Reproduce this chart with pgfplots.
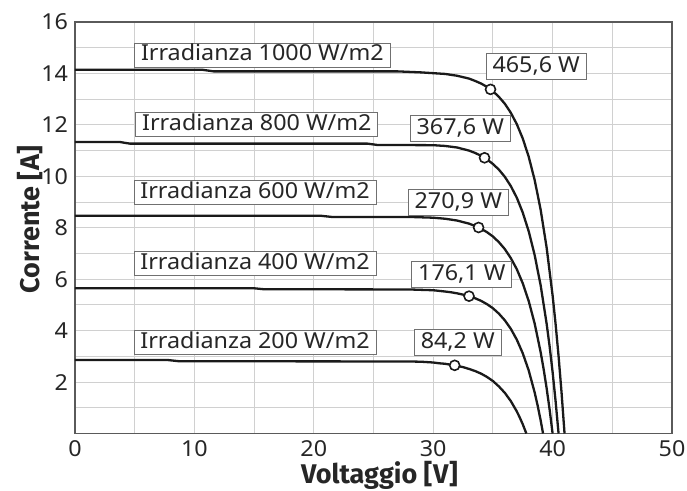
\documentclass[border=0pt]{standalone}
\usepackage{pgfplots}
\pgfplotsset{compat=1.18}
\usepackage{fontspec}
\setmainfont{Noto Sans}[FakeStretch=1.06]
\newfontfamily\labfont{Fira Sans}
\definecolor{curve}{HTML}{1A1A1A}
\definecolor{gridc}{HTML}{D0D0D0}
\definecolor{framec}{HTML}{5A5A5A}
\definecolor{boxc}{HTML}{707070}
\begin{document}
\begin{tikzpicture}[
  lbl/.style={draw=boxc, fill=white, line width=0.5pt, inner xsep=3.2pt, inner ysep=0pt,
    minimum height=12pt, text height=8pt, text depth=2.2pt,
    font=\fontsize{11}{13}\selectfont, text=black!85},
  pw/.style={lbl, minimum height=13pt},
]
\begin{axis}[
  at={(0,0)}, anchor=south west,
  width=298.5pt, height=205.75pt, scale only axis,
  xmin=0, xmax=50, ymin=0, ymax=16,
  xtick={0,10,...,50}, ytick={2,4,...,16},
  minor xtick={5,15,...,45}, minor ytick={1,3,...,15},
  grid=both,
  major grid style={draw=gridc, line width=0.5pt},
  minor grid style={draw=gridc, line width=0.5pt},
  major tick length=0pt, minor tick length=0pt,
  axis line style={draw=framec, line width=0.8pt},
  tick label style={font=\fontsize{11}{13}\selectfont, text=black!85},
  /pgf/number format/assume math mode=true,
  xlabel={Voltaggio [V]}, ylabel={Corrente [A]},
  label style={font=\labfont\fontsize{13.5}{15}\selectfont\bfseries, text=black!85},
  xlabel style={at={(axis description cs:0.51,-0.1009)}, anchor=center},
  ylabel style={at={(axis description cs:-0.0754,0.52)}, anchor=center},
  clip=true,
]
% 1000 W/m2
\addplot[curve, line width=1.15pt] coordinates {
(0,14.14)(10.7,14.14)(11.6,14.08)(27,14.08)(29,14.04)(30,14.01)(31,13.98)(32,13.91)(33,13.80)(33.5,13.71)(34,13.61)(34.5,13.48)(35,13.31)(35.5,13.09)(36,12.82)(36.5,12.47)(37,12.03)(37.5,11.47)(38,10.76)(38.5,9.85)(39,8.70)(39.5,7.23)(40,5.37)(40.25,4.26)(40.5,3.01)(40.75,1.59)(41.0,0)
};
% 800 W/m2
\addplot[curve, line width=1.15pt] coordinates {
(0,11.33)(3.8,11.33)(4.6,11.27)(24.5,11.27)(25.3,11.22)(30,11.21)(31,11.18)(32,11.12)(33,11.00)(33.5,10.91)(34,10.80)(34.5,10.66)(35,10.48)(35.5,10.26)(36,9.98)(36.5,9.62)(37,9.17)(37.5,8.59)(38,7.86)(38.5,6.93)(39,5.76)(39.5,4.27)(39.75,3.39)(40,2.39)(40.25,1.26)(40.5,0)
};
% 600 W/m2
\addplot[curve, line width=1.15pt] coordinates {
(0,8.47)(20.5,8.47)(21.5,8.42)(28,8.42)(30,8.39)(31,8.35)(32,8.28)(32.5,8.22)(33,8.16)(33.5,8.07)(34,7.96)(34.5,7.83)(35,7.66)(35.5,7.44)(36,7.17)(36.5,6.82)(37,6.39)(37.5,5.84)(38,5.15)(38.5,4.27)(39,3.16)(39.25,2.50)(39.5,1.76)(39.75,0.93)(40,0)
};
% 400 W/m2
\addplot[curve, line width=1.15pt] coordinates {
(0,5.65)(14.9,5.65)(15.8,5.61)(28,5.60)(30,5.57)(31,5.52)(31.5,5.49)(32,5.45)(32.5,5.40)(33,5.34)(33.5,5.26)(34,5.16)(34.5,5.03)(35,4.87)(35.5,4.66)(36,4.40)(36.5,4.07)(37,3.65)(37.5,3.12)(38,2.45)(38.5,1.59)(38.75,1.08)(39.0,0.51)(39.2,0)
};
% 200 W/m2
\addplot[curve, line width=1.15pt] coordinates {
(0,2.86)(7.7,2.86)(8.7,2.81)(28,2.80)(29,2.79)(30,2.76)(30.5,2.73)(31,2.71)(31.5,2.67)(32,2.63)(32.5,2.58)(33,2.51)(33.5,2.43)(34,2.33)(34.5,2.20)(35,2.04)(35.5,1.83)(36,1.58)(36.5,1.26)(37,0.86)(37.25,0.62)(37.5,0.36)(37.8,0)
};
% maximum power points
\addplot[only marks, mark=*, mark size=2.5pt,
  mark options={draw=curve, fill=white, line width=0.8pt}] coordinates {
(34.8,13.38)(34.3,10.72)(33.8,8.01)(33.0,5.34)(31.8,2.65)
};
\node[lbl, anchor=west] at (axis cs:4.95,14.71) {Irradianza 1000 W/m2};
\node[lbl, anchor=west] at (axis cs:5.05,12.00) {Irradianza 800 W/m2};
\node[lbl, anchor=west] at (axis cs:4.90,9.36) {Irradianza 600 W/m2};
\node[lbl, anchor=west] at (axis cs:4.90,6.62) {Irradianza 400 W/m2};
\node[lbl, anchor=west] at (axis cs:4.90,3.54) {Irradianza 200 W/m2};
\node[pw] at (axis cs:38.63,14.26) {465,6 W};
\node[pw] at (axis cs:32.27,11.84) {367,6 W};
\node[pw] at (axis cs:32.10,8.97) {270,9 W};
\node[pw] at (axis cs:32.40,6.17) {176,1 W};
\node[pw] at (axis cs:32.06,3.53) {84,2 W};
\end{axis}
\pgfresetboundingbox
\path[use as bounding box] (-37.5pt,-28.75pt) rectangle (306pt,216.75pt);
\end{tikzpicture}
\end{document}
